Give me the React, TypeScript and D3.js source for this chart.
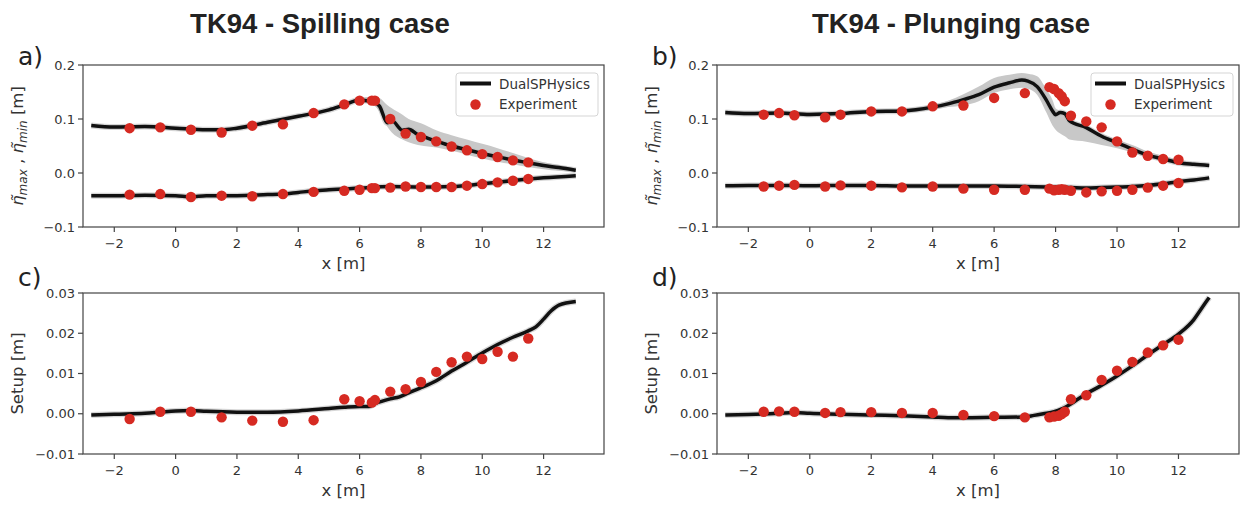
import React from "react";
import * as d3 from "d3";

// tick labels
const xTicks = [-2, 0, 2, 4, 6, 8, 10, 12];
const etaTicks = [-0.1, 0.0, 0.1, 0.2];
const setupTicks = [-0.01, 0.0, 0.01, 0.02, 0.03];

// spilling case - DualSPHysics eta max and its spread
const spillMaxX = [-2.75, -2, -1, 0, 1, 1.5, 2, 3, 4, 5, 5.5, 6, 6.5, 6.65, 6.9, 7.05, 7.4, 7.6, 7.9, 8.1, 8.5, 9, 9.5, 10, 10.5, 11, 11.5, 12, 12.5, 13.05];
const spillMax = [0.088, 0.085, 0.086, 0.083, 0.08, 0.08, 0.083, 0.094, 0.105, 0.117, 0.126, 0.135, 0.13, 0.124, 0.093, 0.097, 0.079, 0.081, 0.071, 0.067, 0.059, 0.05, 0.043, 0.036, 0.03, 0.024, 0.019, 0.014, 0.01, 0.005];
const spillMaxHi = [0.091, 0.088, 0.089, 0.086, 0.083, 0.083, 0.086, 0.097, 0.108, 0.12, 0.129, 0.139, 0.141, 0.139, 0.126, 0.12, 0.108, 0.1, 0.094, 0.09, 0.079, 0.07, 0.062, 0.054, 0.046, 0.037, 0.028, 0.02, 0.015, 0.008];
const spillMaxLo = [0.085, 0.082, 0.083, 0.08, 0.077, 0.077, 0.08, 0.091, 0.102, 0.114, 0.123, 0.132, 0.124, 0.113, 0.086, 0.075, 0.062, 0.057, 0.052, 0.05, 0.047, 0.041, 0.034, 0.027, 0.021, 0.016, 0.011, 0.007, 0.004, 0.002];
// spilling case - DualSPHysics eta min
const spillMinX = [-2.75, -2, -1, 0, 0.5, 1, 2, 3, 3.5, 4, 4.5, 5, 6, 7, 8, 9, 10, 11, 12, 13.05];
const spillMin = [-0.042, -0.042, -0.041, -0.042, -0.044, -0.042, -0.042, -0.04, -0.039, -0.036, -0.033, -0.031, -0.028, -0.025, -0.026, -0.025, -0.02, -0.014, -0.009, -0.005];
// spilling case - DualSPHysics setup
const spillSetupX = [-2.75, -2, -1, -0.5, 0, 0.5, 1, 2, 3, 4, 5, 5.5, 6, 6.3, 6.5, 7, 7.3, 7.6, 7.95, 8.5, 9, 9.5, 10, 10.5, 11, 11.5, 11.75, 12, 12.25, 12.5, 13.05];
const spillSetup = [-0.0003, -0.0001, 0.0001, 0.0004, 0.0007, 0.0008, 0.0006, 0.0004, 0.0004, 0.0007, 0.0013, 0.0016, 0.0018, 0.0018, 0.0025, 0.0037, 0.0042, 0.0052, 0.0063, 0.0082, 0.0106, 0.0128, 0.0151, 0.0172, 0.019, 0.0206, 0.0216, 0.0235, 0.0256, 0.027, 0.0279];
// spilling case - experiment
const spillExpX = [-1.5, -0.5, 0.5, 1.5, 2.5, 3.5, 4.5, 5.5, 6, 6.4, 6.5, 7, 7.5, 8, 8.5, 9, 9.5, 10, 10.5, 11, 11.5];
const spillExpMax = [0.083, 0.0845, 0.08, 0.075, 0.0876, 0.09, 0.111, 0.127, 0.134, 0.134, 0.134, 0.1, 0.073, 0.0667, 0.0586, 0.049, 0.042, 0.035, 0.0296, 0.0234, 0.0197];
const spillExpMin = [-0.04, -0.039, -0.0445, -0.042, -0.043, -0.039, -0.035, -0.033, -0.031, -0.028, -0.028, -0.027, -0.025, -0.026, -0.026, -0.026, -0.0235, -0.0205, -0.0173, -0.0143, -0.011];
const spillExpSetup = [-0.0013, 0.0005, 0.0005, -0.0009, -0.0017, -0.002, -0.0016, 0.0036, 0.0031, 0.0028, 0.0034, 0.0055, 0.0061, 0.0079, 0.0104, 0.0128, 0.0142, 0.0136, 0.0154, 0.0142, 0.0187];

// plunging case - DualSPHysics eta max and its spread
const plungeMaxX = [-2.75, -2, -1, 0, 1, 2, 3, 4, 4.5, 5, 5.5, 6, 6.5, 6.9, 7.1, 7.4, 7.7, 7.9, 8.0, 8.15, 8.3, 8.45, 9, 9.5, 10, 10.5, 11, 11.5, 12, 12.5, 13];
const plungeMax = [0.112, 0.11, 0.111, 0.1085, 0.11, 0.114, 0.115, 0.122, 0.128, 0.136, 0.145, 0.159, 0.167, 0.172, 0.17, 0.16, 0.135, 0.115, 0.108, 0.112, 0.11, 0.097, 0.084, 0.068, 0.056, 0.044, 0.033, 0.026, 0.019, 0.016, 0.014];
const plungeMaxHi = [0.116, 0.114, 0.115, 0.113, 0.114, 0.118, 0.119, 0.127, 0.134, 0.146, 0.16, 0.176, 0.182, 0.185, 0.184, 0.179, 0.155, 0.135, 0.12, 0.115, 0.108, 0.1, 0.085, 0.072, 0.062, 0.052, 0.04, 0.032, 0.025, 0.02, 0.017];
const plungeMaxLo = [0.108, 0.106, 0.107, 0.104, 0.106, 0.11, 0.111, 0.117, 0.122, 0.125, 0.133, 0.148, 0.155, 0.158, 0.156, 0.145, 0.112, 0.088, 0.08, 0.073, 0.068, 0.062, 0.058, 0.052, 0.046, 0.038, 0.028, 0.022, 0.016, 0.013, 0.012];
// plunging case - DualSPHysics eta min
const plungeMinX = [-2.75, -2, -1, 0, 1, 2, 3, 4, 5, 6, 7, 8, 8.5, 9, 9.5, 10, 10.5, 11, 11.5, 12, 12.5, 13];
const plungeMin = [-0.0235, -0.023, -0.023, -0.0237, -0.023, -0.023, -0.024, -0.024, -0.024, -0.024, -0.025, -0.026, -0.027, -0.028, -0.027, -0.026, -0.025, -0.023, -0.02, -0.016, -0.013, -0.009];
// plunging case - DualSPHysics setup
const plungeSetupX = [-2.75, -2, -1, -0.5, 0, 1, 2, 3, 4, 4.5, 5, 6, 7, 7.3, 7.6, 7.95, 8.2, 8.4, 8.9, 9.5, 10, 10.5, 11, 11.5, 12, 12.5, 12.7, 13.0];
const plungeSetup = [-0.0003, -0.0002, 0.0001, 0.0003, 0.0001, -0.0001, -0.0003, -0.0005, -0.0008, -0.001, -0.001, -0.0009, -0.0008, -0.0004, 0.0, 0.0005, 0.0012, 0.002, 0.0045, 0.0071, 0.0094, 0.0119, 0.0146, 0.0172, 0.0198, 0.0234, 0.0256, 0.0289];
// plunging case - experiment
const plungeExpX = [-1.5, -1, -0.5, 0.5, 1, 2, 3, 4, 5, 6, 7, 7.8, 7.95, 8.1, 8.2, 8.3, 8.5, 9, 9.5, 10, 10.5, 11, 11.5, 12];
const plungeExpMax = [0.108, 0.111, 0.107, 0.103, 0.108, 0.114, 0.114, 0.1235, 0.125, 0.139, 0.148, 0.159, 0.1555, 0.148, 0.142, 0.133, 0.106, 0.0956, 0.0845, 0.0586, 0.038, 0.032, 0.026, 0.0246];
const plungeExpMin = [-0.025, -0.0235, -0.022, -0.025, -0.023, -0.0235, -0.0266, -0.025, -0.029, -0.031, -0.031, -0.029, -0.032, -0.031, -0.03, -0.031, -0.033, -0.036, -0.034, -0.033, -0.031, -0.027, -0.0235, -0.0185];
const plungeExpSetup = [0.0005, 0.0006, 0.0005, 0.0002, 0.0004, 0.0004, 0.0002, 0.0002, -0.0003, -0.0006, -0.0009, -0.0009, -0.0007, -0.0005, -0.0001, 0.0005, 0.0036, 0.0046, 0.0084, 0.0107, 0.0129, 0.0152, 0.017, 0.0184];

const FONT = "DejaVu Sans, sans-serif";
const RED = "#d62a22";
const BAND = "#c8c8c8";
const TEXT = "#333";
const SPINE = "#444";

type Series = { xs: number[]; ys: number[] };
type Band = { xs: number[]; lo: number[]; hi: number[] };

const zip = (xs: number[], ys: number[]) => xs.map((x, i) => [x, ys[i]] as [number, number]);

function EtaLabel() {
  return (
    <>
      <tspan fontStyle="italic">η̃</tspan>
      <tspan fontStyle="italic" fontSize={12} dy={4}>max</tspan>
      <tspan dy={-4}> , </tspan>
      <tspan fontStyle="italic">η̃</tspan>
      <tspan fontStyle="italic" fontSize={12} dy={4}>min</tspan>
      <tspan dy={-4}> [m]</tspan>
    </>
  );
}

function Panel(props: {
  left: number; right: number; top: number; bottom: number;
  yDomain: [number, number]; yTicks: number[]; yFmt: string;
  lines: Series[]; bands: Band[]; points: Series[];
  ylabel: React.ReactNode; letter: string; letterY: number; legend?: boolean;
}) {
  const { left, right, top, bottom, yDomain, yTicks, yFmt, lines, bands, points, ylabel, letter, letterY, legend } = props;
  const x = d3.scaleLinear().domain([-3.02, 13.97]).range([left, right]);
  const y = d3.scaleLinear().domain(yDomain).range([bottom, top]);
  const fmt = d3.format(yFmt);
  const line = d3.line<[number, number]>().x(d => x(d[0])).y(d => y(d[1])).curve(d3.curveMonotoneX);
  const area = d3.area<number>()
    .curve(d3.curveMonotoneX);
  const cx = (left + right) / 2;
  const cy = (top + bottom) / 2;
  const lx = right - 148;
  const ly = top + 8;
  return (
    <g>
      <text x={left - 65} y={letterY} fontFamily={FONT} fontSize={25} fill="#222">{letter}</text>
      {bands.map((b, i) => {
        const a = d3.area<number>()
          .x((_, j) => x(b.xs[j]))
          .y0((_, j) => y(b.lo[j]))
          .y1((_, j) => y(b.hi[j]))
          .curve(d3.curveMonotoneX);
        return <path key={i} d={a(b.xs) || ""} fill={BAND} stroke="none" />;
      })}
      {lines.map((s, i) => (
        <path key={"h" + i} d={line(zip(s.xs, s.ys)) || ""} fill="none" stroke="#bbb" strokeWidth={6} strokeOpacity={0.6} strokeLinejoin="round" />
      ))}
      {lines.map((s, i) => (
        <path key={"l" + i} d={line(zip(s.xs, s.ys)) || ""} fill="none" stroke="#111" strokeWidth={3.5} strokeLinejoin="round" />
      ))}
      {points.map((s, i) => (
        <g key={"p" + i}>
          {s.xs.map((v, j) => (
            <circle key={j} cx={x(v)} cy={y(s.ys[j])} r={5.2} fill={RED} />
          ))}
        </g>
      ))}
      <rect x={left} y={top} width={right - left} height={bottom - top} fill="none" stroke={SPINE} strokeWidth={1.2} />
      {xTicks.map(t => (
        <g key={t}>
          <line x1={x(t)} x2={x(t)} y1={bottom} y2={bottom + 5} stroke={SPINE} strokeWidth={1.2} />
          <text x={x(t)} y={bottom + 21} textAnchor="middle" fontFamily={FONT} fontSize={13} fill={TEXT}>
            {d3.format("")(t).replace("-", "−")}
          </text>
        </g>
      ))}
      {yTicks.map(t => (
        <g key={t}>
          <line x1={left - 5} x2={left} y1={y(t)} y2={y(t)} stroke={SPINE} strokeWidth={1.2} />
          <text x={left - 8} y={y(t)} dy="0.36em" textAnchor="end" fontFamily={FONT} fontSize={13} fill={TEXT}>
            {fmt(t)}
          </text>
        </g>
      ))}
      <text x={cx} y={bottom + 42} textAnchor="middle" fontFamily={FONT} fontSize={16.5} fill={TEXT}>x [m]</text>
      <text transform={`translate(${left - 60},${cy}) rotate(-90)`} textAnchor="middle" fontFamily={FONT} fontSize={16.5} fill={TEXT}>
        {ylabel}
      </text>
      {legend && (
        <g>
          <rect x={lx} y={ly} width={142} height={43} rx={3} fill="white" fillOpacity={0.85} stroke="#d5d5d5" />
          <line x1={lx + 4} x2={lx + 35} y1={ly + 10.5} y2={ly + 10.5} stroke="#111" strokeWidth={4} />
          <text x={lx + 43} y={ly + 15.5} fontFamily={FONT} fontSize={13.5} fill={TEXT}>DualSPHysics</text>
          <circle cx={lx + 19.5} cy={ly + 31.5} r={5.2} fill={RED} />
          <text x={lx + 43} y={ly + 36} fontFamily={FONT} fontSize={13.5} fill={TEXT}>Experiment</text>
        </g>
      )}
    </g>
  );
}

export default function App() {
  return (
    <svg width={1242} height={506} style={{ position: "absolute", left: 0, top: 0, background: "white" }}>
      <text x={320} y={33} textAnchor="middle" fontFamily="Liberation Sans, Arial, sans-serif" fontWeight="bold" fontSize={27.5} fill="#222">
        TK94 - Spilling case
      </text>
      <text x={951} y={33} textAnchor="middle" fontFamily="Liberation Sans, Arial, sans-serif" fontWeight="bold" fontSize={27.5} fill="#222">
        TK94 - Plunging case
      </text>
      <Panel
        left={83} right={604} top={65} bottom={227}
        yDomain={[-0.1, 0.2]} yTicks={etaTicks} yFmt=".1f"
        bands={[{ xs: spillMaxX, lo: spillMaxLo, hi: spillMaxHi }]}
        lines={[{ xs: spillMaxX, ys: spillMax }, { xs: spillMinX, ys: spillMin }]}
        points={[{ xs: spillExpX, ys: spillExpMax }, { xs: spillExpX, ys: spillExpMin }]}
        ylabel={<EtaLabel />} letter="a)" letterY={65} legend
      />
      <Panel
        left={717} right={1239} top={65} bottom={227}
        yDomain={[-0.1, 0.2]} yTicks={etaTicks} yFmt=".1f"
        bands={[{ xs: plungeMaxX, lo: plungeMaxLo, hi: plungeMaxHi }]}
        lines={[{ xs: plungeMaxX, ys: plungeMax }, { xs: plungeMinX, ys: plungeMin }]}
        points={[{ xs: plungeExpX, ys: plungeExpMax }, { xs: plungeExpX, ys: plungeExpMin }]}
        ylabel={<EtaLabel />} letter="b)" letterY={65} legend
      />
      <Panel
        left={83} right={604} top={293} bottom={454}
        yDomain={[-0.01, 0.03]} yTicks={setupTicks} yFmt=".2f"
        bands={[]}
        lines={[{ xs: spillSetupX, ys: spillSetup }]}
        points={[{ xs: spillExpX, ys: spillExpSetup }]}
        ylabel="Setup [m]" letter="c)" letterY={286}
      />
      <Panel
        left={717} right={1239} top={293} bottom={454}
        yDomain={[-0.01, 0.03]} yTicks={setupTicks} yFmt=".2f"
        bands={[]}
        lines={[{ xs: plungeSetupX, ys: plungeSetup }]}
        points={[{ xs: plungeExpX, ys: plungeExpSetup }]}
        ylabel="Setup [m]" letter="d)" letterY={286}
      />
    </svg>
  );
}
